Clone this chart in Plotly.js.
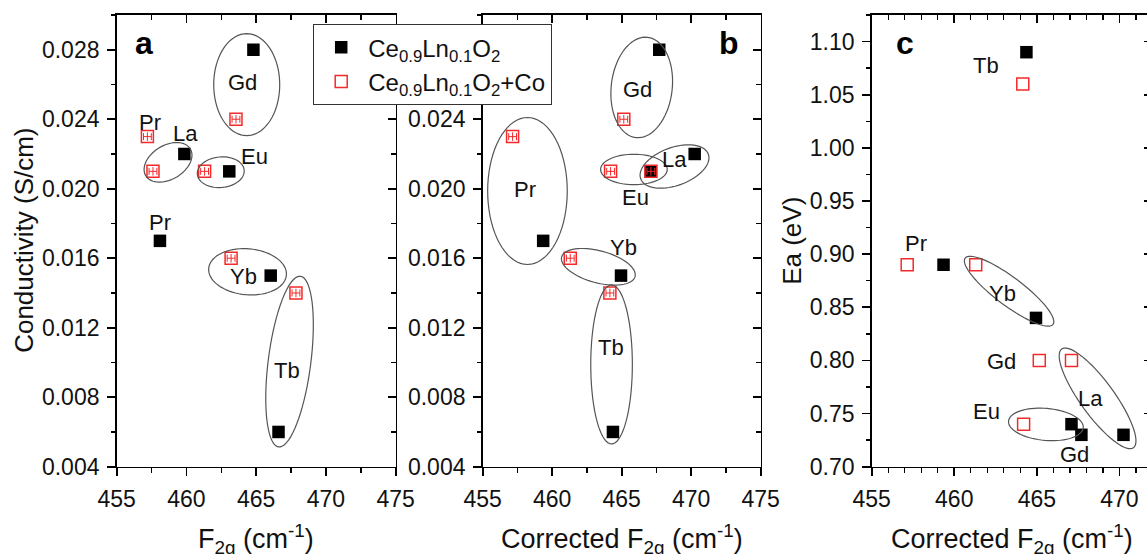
<!DOCTYPE html>
<html><head><meta charset="utf-8">
<script src="https://cdn.plot.ly/plotly-3.0.1.min.js"></script>
<style>html,body{margin:0;padding:0;overflow:hidden;background:#fff}#chart{width:1160px;height:554px}</style>
</head><body><div id="chart"></div>
<script>
// ---- data ----
const elements = ['La', 'Pr', 'Eu', 'Gd', 'Tb', 'Yb'];
const f2gPure = [459.85, 458.1, 463.07, 464.8, 466.6, 466.04];
const f2gCo = [457.6, 457.2, 461.3, 463.55, 467.85, 463.2];
const corrF2gPure = [470.25, 459.35, 467.1, 467.7, 464.37, 464.95];
const corrF2gCo = [467.1, 457.15, 464.2, 465.15, 464.15, 461.3];
const condPure = [0.022, 0.017, 0.021, 0.028, 0.006, 0.015];
const condCo = [0.021, 0.023, 0.021, 0.024, 0.014, 0.016];
const eaPure = [0.73, 0.89, 0.74, 0.73, 1.09, 0.84];
const eaCo = [0.80, 0.89, 0.74, 0.80, 1.06, 0.89];
const seriesNames = ['Ce<sub>0.9</sub>Ln<sub>0.1</sub>O<sub>2</sub>', 'Ce<sub>0.9</sub>Ln<sub>0.1</sub>O<sub>2</sub>+Co'];
const xTitles = ['F<sub>2g</sub> (cm<sup>-1</sup>)', 'Corrected F<sub>2g</sub> (cm<sup>-1</sup>)', 'Corrected F<sub>2g</sub> (cm<sup>-1</sup>)'];
const yTitles = ['Conductivity (S/cm)', '', 'Ea (eV)'];
const panelLetters = ['a', 'b', 'c'];
const xTickVals = [455, 460, 465, 470, 475];
const condTickVals = [0.004, 0.008, 0.012, 0.016, 0.020, 0.024, 0.028];
const eaTickVals = [0.70, 0.75, 0.80, 0.85, 0.90, 0.95, 1.00, 1.05, 1.10];

// ---- group labels (annotation text) ----
const labelTextA = ['Gd', 'Pr', 'La', 'Eu', 'Pr', 'Yb', 'Tb'];
const labelXA = [464.05, 457.41, 459.92, 464.88, 458.09, 464.08, 467.19];
const labelYA = [0.02612, 0.02384, 0.02317, 0.02183, 0.01807, 0.01497, 0.00952];
const labelTextB = ['Gd', 'Pr', 'La', 'Eu', 'Yb', 'Tb'];
const labelXB = [466.16, 458.04, 468.81, 466.01, 465.14, 464.22];
const labelYB = [0.02571, 0.01994, 0.02168, 0.01951, 0.01664, 0.01084];
const labelTextC = ['Tb', 'Pr', 'Yb', 'Gd', 'La', 'Eu', 'Gd'];
const labelXC = [461.94, 457.70, 462.94, 462.84, 468.27, 461.94, 467.30];
const labelYC = [1.0776, 0.9098, 0.8634, 0.7987, 0.7644, 0.7518, 0.7118];
const letterX = [456.94, 472.72, 457.02];
const letterY = [0.02836, 0.02837, 1.0987];

// ---- grouping ellipses: centre (data), semi-axes (px), rotation (deg, screen) ----
const ellipsesA = [
  [464.32, 0.02599, 51, 33, -90], [458.68, 0.02152, 26, 17, -31], [462.46, 0.02095, 23.5, 15.3, -5],
  [464.38, 0.01522, 39, 23, 5], [467.39, 0.01005, 86, 21.3, -82.7]];
const ellipsesB = [
  [466.44, 0.02583, 50.5, 30.5, -83.3], [458.22, 0.01987, 73.5, 39.8, -90], [465.88, 0.02111, 33.3, 15.2, 0],
  [468.80, 0.02128, 36, 19, -20], [463.32, 0.015506, 38, 16, 15], [464.27, 0.009885, 79.5, 20.8, -90]];
const ellipsesC = [
  [463.32, 0.8651, 55, 14, 37], [468.68, 0.7643, 61, 17, 54], [465.55, 0.7398, 37.5, 16, 5]];

// ---- layout ----
const W = 1160, H = 554;
const FONT = 'Liberation Sans, Arial, sans-serif';
const yDom = [1 - 466.7 / H, 1 - 15 / H];
const panels = [
  {s: '', xd: [116.7 / W, 395.7 / W], xr: [455, 475], yr: [0.004, 0.030], yt: condTickVals, ymin: 0.002, xmin: 2.5, yfmt: '.3f',
   xs: f2gPure, xc: f2gCo, ys: condPure, yc: condCo, lt: labelTextA, lx: labelXA, ly: labelYA, el: ellipsesA, err: true, ytx: 24},
  {s: '2', xd: [482.7 / W, 760.7 / W], xr: [455, 475], yr: [0.004, 0.030], yt: condTickVals, ymin: 0.002, xmin: 2.5, yfmt: '.3f',
   xs: corrF2gPure, xc: corrF2gCo, ys: condPure, yc: condCo, lt: labelTextB, lx: labelXB, ly: labelYB, el: ellipsesB, err: true, ytx: 0},
  {s: '3', xd: [871.7 / W, 1152.4 / W], xr: [455, 472], yr: [0.70, 1.125], yt: eaTickVals, ymin: 0.025, xmin: 1, yfmt: '.2f',
   xs: corrF2gPure, xc: corrF2gCo, ys: eaPure, yc: eaCo, lt: labelTextC, lx: labelXC, ly: labelYC, el: ellipsesC, err: false, ytx: 792}
];

const RED = '#f42a2a';
const traces = [], shapes = [], annotations = [];
const layout = {
  width: W, height: H, margin: {l: 0, r: 0, t: 0, b: 0}, paper_bgcolor: '#fff', plot_bgcolor: 'rgba(0,0,0,0)',
  font: {family: FONT, color: '#111'}, showlegend: true,
  legend: {x: 313 / W, y: 1 - 24 / H, xanchor: 'left', yanchor: 'top', bgcolor: '#fff', bordercolor: '#333', borderwidth: 1.2,
           font: {family: FONT, size: 24, color: '#111'}, itemsizing: 'trace', traceorder: 'normal', itemwidth: 44,
           tracegroupgap: 0},
  shapes: shapes, annotations: annotations
};

function axisBase(extra) {
  return Object.assign({
    showline: true, linecolor: '#000', linewidth: 1.6, showgrid: false, zeroline: false,
    tickcolor: '#000', tickwidth: 1.6, ticklen: 8, automargin: false, fixedrange: true,
    tickfont: {family: FONT, size: 23, color: '#111'}
  }, extra);
}

panels.forEach((p, i) => {
  const xn = 'x' + p.s, yn = 'y' + p.s;
  const xo = 'x' + (i + 4), yo = 'y' + (i + 4);
  layout['xaxis' + p.s] = axisBase({
    domain: p.xd, range: p.xr, anchor: yn, ticks: 'outside', tickmode: 'array', tickvals: xTickVals,
    ticklabelstandoff: 3,
    minor: {ticks: 'outside', dtick: p.xmin, tick0: 455, ticklen: 4.5, tickwidth: 1.4, tickcolor: '#000', showgrid: false}
  });
  layout['yaxis' + p.s] = axisBase({
    domain: yDom, range: p.yr, anchor: xn, ticks: 'outside', tickmode: 'array', tickvals: p.yt, tickformat: p.yfmt,
    ticklabelstandoff: 3,
    minor: {ticks: 'outside', dtick: p.ymin, tick0: p.yr[0], ticklen: 4.5, tickwidth: 1.4, tickcolor: '#000', showgrid: false}
  });
  // mirrored top / right axes with inward ticks
  layout['xaxis' + (i + 4)] = axisBase({
    overlaying: xn, side: 'top', anchor: yn, range: p.xr, ticks: 'inside', tickmode: 'array', tickvals: xTickVals,
    showticklabels: false,
    minor: {ticks: 'inside', dtick: p.xmin, tick0: 455, ticklen: 4.5, tickwidth: 1.4, tickcolor: '#000', showgrid: false}
  });
  layout['yaxis' + (i + 4)] = axisBase({
    overlaying: yn, side: 'right', anchor: xn, range: p.yr, ticks: 'inside', tickmode: 'array', tickvals: p.yt,
    showticklabels: false,
    minor: {ticks: 'inside', dtick: p.ymin, tick0: p.yr[0], ticklen: 4.5, tickwidth: 1.4, tickcolor: '#000', showgrid: false}
  });
  traces.push({type: 'scatter', mode: 'markers', x: [], y: [], xaxis: xo, yaxis: yo, showlegend: false, hoverinfo: 'skip'});

  traces.push({
    type: 'scatter', mode: 'markers', x: p.xs, y: p.ys, text: elements, xaxis: xn, yaxis: yn,
    name: seriesNames[0], showlegend: i === 0, legendgroup: 'pure', cliponaxis: false,
    marker: {symbol: 'square', size: 12.5, color: '#000', line: {width: 0}}
  });
  const red = {
    type: 'scatter', mode: 'markers', x: p.xc, y: p.yc, text: elements, xaxis: xn, yaxis: yn,
    name: seriesNames[1], showlegend: i === 0, legendgroup: 'co', cliponaxis: false,
    marker: {symbol: 'square-open', size: 12, color: RED, line: {width: 1.5, color: RED}}
  };
  if (p.err) {
    red.error_x = {type: 'constant', value: 0.28, thickness: 1, width: 3.5, color: RED};
    red.error_y = {type: 'constant', value: (p.yr[1] - p.yr[0]) * 0.0095, thickness: 1, width: 0, color: RED};
  }
  traces.push(red);

  // axis titles
  annotations.push({
    xref: 'paper', yref: 'paper', x: (p.xd[0] + p.xd[1]) / 2, y: 1 - 539 / H, text: xTitles[i], showarrow: false,
    xanchor: 'center', yanchor: 'middle', font: {family: FONT, size: 27, color: '#111'}
  });
  if (yTitles[i]) annotations.push({
    xref: 'paper', yref: 'paper', x: p.ytx / W, y: (yDom[0] + yDom[1]) / 2, text: yTitles[i], showarrow: false,
    textangle: -90, xanchor: 'center', yanchor: 'middle', font: {family: FONT, size: 26, color: '#111'}
  });

  // group labels and panel letters
  p.lt.forEach((t, k) => annotations.push({
    xref: xn, yref: yn, x: p.lx[k], y: p.ly[k], text: t, showarrow: false, xanchor: 'center', yanchor: 'middle',
    font: {family: FONT, size: 22, color: '#111'}
  }));
  annotations.push({
    xref: xn, yref: yn, x: letterX[i], y: letterY[i], text: '<b>' + panelLetters[i] + '</b>', showarrow: false,
    xanchor: 'center', yanchor: 'middle', font: {family: FONT, size: 32, color: '#000'}
  });

  // ellipses
  const pxX = (p.xd[1] - p.xd[0]) * W / (p.xr[1] - p.xr[0]);
  const pxY = (yDom[1] - yDom[0]) * H / (p.yr[1] - p.yr[0]);
  p.el.forEach(e => {
    const [cx, cy, a, b, rot] = e;
    const th = rot * Math.PI / 180;
    let path = '';
    for (let k = 0; k <= 72; k++) {
      const t = 2 * Math.PI * k / 72;
      const ux = a * Math.cos(t), uy = b * Math.sin(t);
      const dx = ux * Math.cos(th) - uy * Math.sin(th);
      const dy = ux * Math.sin(th) + uy * Math.cos(th);
      path += (k === 0 ? 'M' : 'L') + (cx + dx / pxX) + ',' + (cy - dy / pxY);
    }
    shapes.push({type: 'path', xref: xn, yref: yn, path: path + 'Z', line: {color: '#555', width: 1.2}, layer: 'above'});
  });
});

Plotly.newPlot('chart', traces, layout, {staticPlot: true, displayModeBar: false});
</script>
</body></html>
